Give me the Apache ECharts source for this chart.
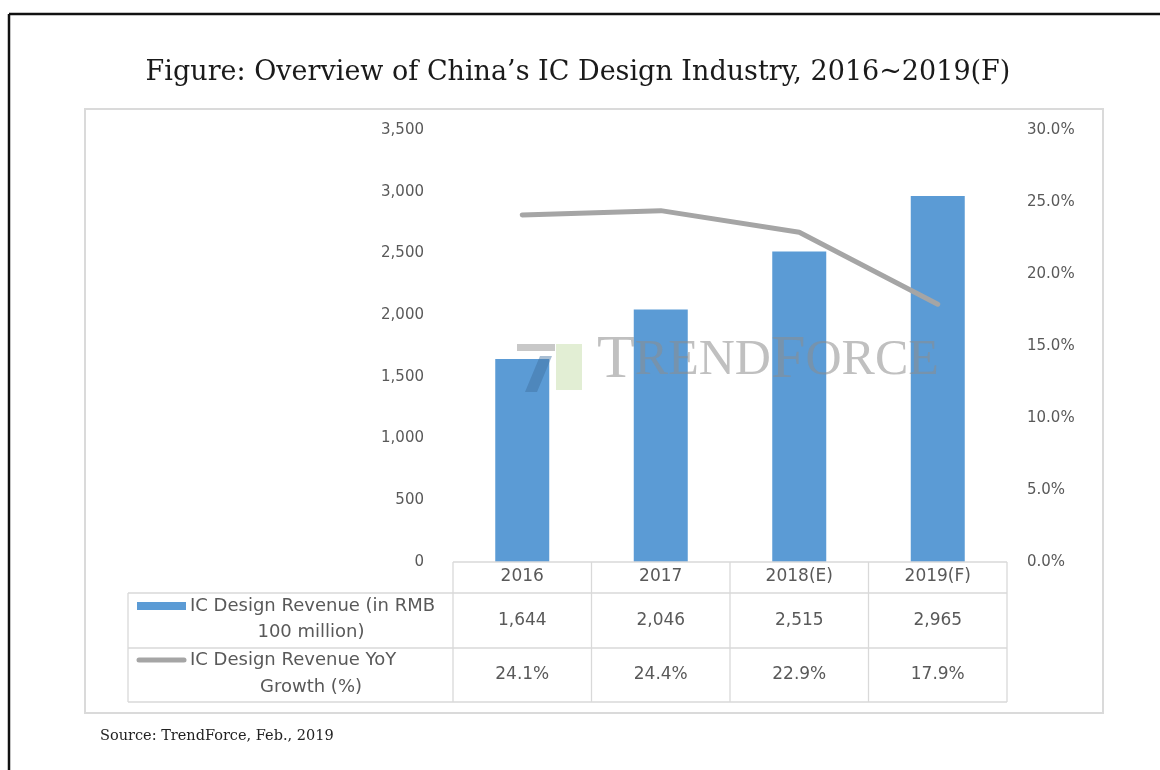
<!DOCTYPE html>
<html>
<head>
<meta charset="utf-8">
<title>China IC Design Industry 2016~2019(F)</title>
<script src="https://cdn.jsdelivr.net/npm/echarts@6/dist/echarts.min.js"></script>
<style>
  html, body { margin: 0; padding: 0; background: #fff; }
  #chart { width: 1160px; height: 770px; }
</style>
</head>
<body>
<div id="chart"></div>
<script>
// ---- data ----
const categories = ['2016', '2017', '2018(E)', '2019(F)'];
const revenue = [1644, 2046, 2515, 2965];          // RMB 100 million
const yoyGrowth = [0.241, 0.244, 0.229, 0.179];     // year-over-year growth
const revenueTicks = [0, 500, 1000, 1500, 2000, 2500, 3000, 3500];
const growthTicks = [0, 0.05, 0.10, 0.15, 0.20, 0.25, 0.30];
const revenueRowLabel = ['IC Design Revenue (in RMB', '100 million)'];
const growthRowLabel = ['IC Design Revenue YoY', 'Growth (%)'];
const titleText = 'Figure: Overview of China\u2019s IC Design Industry, 2016~2019(F)';
const sourceText = 'Source: TrendForce, Feb., 2019';

const BLUE = '#5B9BD5';
const GRAY = '#A5A5A5';
const TEXT = '#595959';
const RULE = '#D9D9D9';
const SANS = '"DejaVu Sans", Verdana, sans-serif';
const SERIF = '"DejaVu Serif", Georgia, serif';
const LABEL_SIZE = 15;
const TABLE_SIZE = 17;
const ROWHEAD_SIZE = 18;

const fmtThousands = v => v.toLocaleString('en-US');
const fmtPct = v => (v * 100).toFixed(1) + '%';

const chart = echarts.init(document.getElementById('chart'), null, { renderer: 'canvas' });

const GRID = { left: 453, right: 153, top: 130, bottom: 208 };

chart.setOption({
  animation: false,
  backgroundColor: '#fff',
  grid: { left: GRID.left, right: GRID.right, top: GRID.top, bottom: GRID.bottom, containLabel: false },
  xAxis: {
    type: 'category',
    data: categories,
    axisLine: { show: false },
    axisTick: { show: false },
    axisLabel: { color: TEXT, fontFamily: SANS, fontSize: TABLE_SIZE, margin: 6 }
  },
  yAxis: [
    {
      type: 'value', min: revenueTicks[0], max: revenueTicks[revenueTicks.length - 1], interval: 500,
      splitLine: { show: false }, axisLine: { show: false }, axisTick: { show: false },
      axisLabel: { color: TEXT, fontFamily: SANS, fontSize: LABEL_SIZE, margin: 29, formatter: fmtThousands }
    },
    {
      type: 'value', min: growthTicks[0], max: growthTicks[growthTicks.length - 1], interval: 0.05,
      position: 'right',
      splitLine: { show: false }, axisLine: { show: false }, axisTick: { show: false },
      axisLabel: { color: TEXT, fontFamily: SANS, fontSize: LABEL_SIZE, margin: 20, formatter: fmtPct }
    }
  ],
  series: [
    {
      name: 'IC Design Revenue (in RMB 100 million)',
      type: 'bar', data: revenue, barWidth: 54,
      itemStyle: { color: BLUE }, z: 2
    },
    {
      name: 'IC Design Revenue YoY Growth (%)',
      type: 'line', yAxisIndex: 1, data: yoyGrowth,
      symbol: 'none', smooth: false,
      lineStyle: { color: GRAY, width: 5, cap: 'round', join: 'round' }, z: 3
    }
  ]
});

// ---- frame, title, data table and watermark drawn as graphics ----
function buildGraphics() {
  const g = [];
  const plotLeft = GRID.left;
  const plotRight = 1160 - GRID.right;
  const baseY = 770 - GRID.bottom;
  const colW = (plotRight - plotLeft) / categories.length;
  const tableLeft = 128;
  const rowTop = [baseY, baseY + 31, baseY + 86, baseY + 140]; // header, row1, row2, bottom
  const tableFont = TABLE_SIZE + 'px ' + SANS;
  const headFont = ROWHEAD_SIZE + 'px ' + SANS;

  // outer black frame (top and left)
  g.push({ type: 'line', shape: { x1: 9, y1: 14, x2: 1160, y2: 14 }, style: { stroke: '#111', lineWidth: 2.5 }, silent: true });
  g.push({ type: 'line', shape: { x1: 9, y1: 14, x2: 9, y2: 770 }, style: { stroke: '#111', lineWidth: 2.5 }, silent: true });

  // chart area border
  g.push({ type: 'rect', shape: { x: 85, y: 109, width: 1018, height: 604 }, style: { fill: null, stroke: '#DADADA', lineWidth: 2 }, silent: true, z: -1 });

  // title and source
  g.push({ type: 'text', x: 578, y: 73, style: { text: titleText, font: '27px ' + SERIF, fill: '#1a1a1a', align: 'center', verticalAlign: 'middle' }, silent: true });
  g.push({ type: 'text', x: 100, y: 736, style: { text: sourceText, font: '14.5px ' + SERIF, fill: '#222', align: 'left', verticalAlign: 'middle' }, silent: true });

  const line = (x1, y1, x2, y2) => g.push({ type: 'line', shape: { x1, y1, x2, y2 }, style: { stroke: RULE, lineWidth: 1.3 }, silent: true, z: 5 });

  // table rules
  line(plotLeft, rowTop[0], plotRight, rowTop[0]);
  line(tableLeft, rowTop[1], plotRight, rowTop[1]);
  line(tableLeft, rowTop[2], plotRight, rowTop[2]);
  line(tableLeft, rowTop[3], plotRight, rowTop[3]);
  line(tableLeft, rowTop[1], tableLeft, rowTop[3]);
  for (let i = 0; i <= categories.length; i++) {
    const x = plotLeft + colW * i;
    line(x, rowTop[0], x, rowTop[3]);
  }

  // table values, centred under each category
  categories.forEach((c, i) => {
    const cx = chart.convertToPixel({ xAxisIndex: 0 }, c);
    g.push({ type: 'text', x: cx, y: (rowTop[1] + rowTop[2]) / 2, style: { text: fmtThousands(revenue[i]), font: tableFont, fill: TEXT, align: 'center', verticalAlign: 'middle' }, silent: true, z: 5 });
    g.push({ type: 'text', x: cx, y: (rowTop[2] + rowTop[3]) / 2, style: { text: fmtPct(yoyGrowth[i]), font: tableFont, fill: TEXT, align: 'center', verticalAlign: 'middle' }, silent: true, z: 5 });
  });

  // row headers with legend keys
  const keyX = 137, keyW = 49, textX = 190, line2X = 311;
  const r1a = rowTop[1] + 13, r1b = rowTop[1] + 39;
  const r2a = rowTop[2] + 12, r2b = rowTop[2] + 39;
  g.push({ type: 'rect', shape: { x: keyX, y: r1a - 4, width: keyW, height: 8 }, style: { fill: BLUE }, silent: true, z: 5 });
  g.push({ type: 'text', x: textX, y: r1a, style: { text: revenueRowLabel[0], font: headFont, fill: TEXT, verticalAlign: 'middle' }, silent: true, z: 5 });
  g.push({ type: 'text', x: line2X, y: r1b, style: { text: revenueRowLabel[1], font: headFont, fill: TEXT, align: 'center', verticalAlign: 'middle' }, silent: true, z: 5 });
  g.push({ type: 'line', shape: { x1: keyX + 2, y1: r2a, x2: keyX + keyW - 2, y2: r2a }, style: { stroke: GRAY, lineWidth: 5, lineCap: 'round' }, silent: true, z: 5 });
  g.push({ type: 'text', x: textX, y: r2a, style: { text: growthRowLabel[0], font: headFont, fill: TEXT, verticalAlign: 'middle' }, silent: true, z: 5 });
  g.push({ type: 'text', x: line2X, y: r2b, style: { text: growthRowLabel[1], font: headFont, fill: TEXT, align: 'center', verticalAlign: 'middle' }, silent: true, z: 5 });

  // TrendForce watermark
  g.push({ type: 'rect', shape: { x: 517, y: 344, width: 38, height: 7 }, style: { fill: '#9a9a9a', opacity: 0.55 }, silent: true, z: 10 });
  g.push({ type: 'rect', shape: { x: 556, y: 344, width: 26, height: 46 }, style: { fill: '#cfe3b8', opacity: 0.6 }, silent: true, z: 10 });
  g.push({ type: 'polygon', shape: { points: [[540, 356], [552, 356], [537, 392], [525, 392]] }, style: { fill: '#3d6f9e', opacity: 0.45 }, silent: true, z: 10 });
  g.push({
    type: 'text', x: 597, y: 392, silent: true, z: 10,
    style: {
      text: '{b|T}{s|REND}{b|F}{s|ORCE}',
      verticalAlign: 'bottom', fill: '#8c8c8c', opacity: 0.55,
      rich: {
        b: { font: '62px "Liberation Serif", "DejaVu Serif", serif', fill: '#8c8c8c' },
        s: { font: '50px "Liberation Serif", "DejaVu Serif", serif', fill: '#8c8c8c' }
      }
    }
  });
  return g;
}

chart.setOption({ graphic: buildGraphics() });
</script>
</body>
</html>
